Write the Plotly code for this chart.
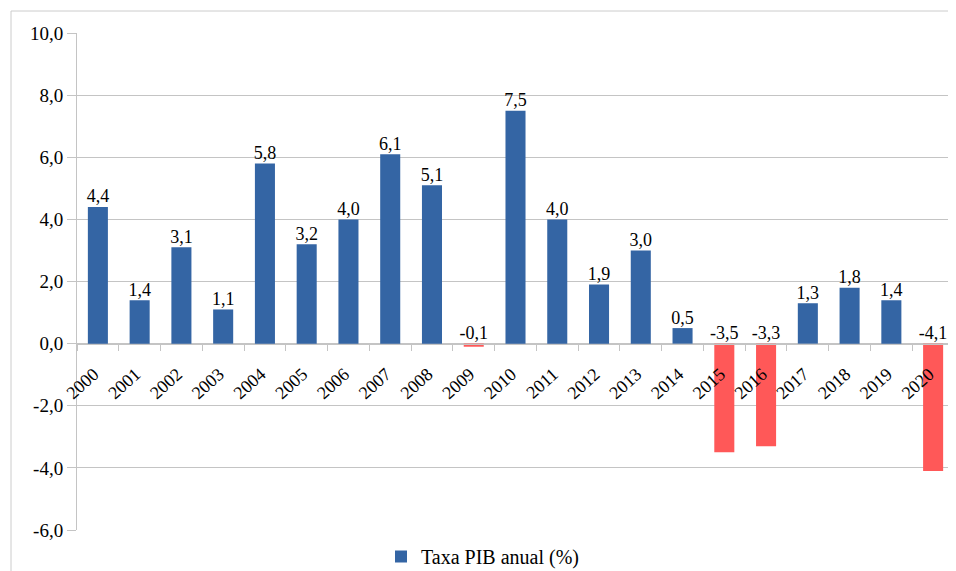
import plotly.graph_objects as go
import numpy as np

years = [str(y) for y in range(2000, 2021)]
pib = [4.4, 1.4, 3.1, 1.1, 5.8, 3.2, 4.0, 6.1, 5.1, -0.1, 7.5,
       4.0, 1.9, 3.0, 0.5, -3.5, -3.3, 1.3, 1.8, 1.4, -4.1]
series_name = "Taxa PIB anual (%)"
y_ticks = [-6, -4, -2, 0, 2, 4, 6, 8, 10]

BLUE = "#3465a4"
RED = "#ff5858"
GRID = "#c4c4c4"
FONT = "Liberation Serif"


def fmt(v):
    return f"{v:.1f}".replace(".", ",")


vals = np.array(pib)
colors = [BLUE if v >= 0 else RED for v in pib]

fig = go.Figure()
fig.add_trace(go.Bar(
    x=years, y=pib, name=series_name,
    marker=dict(color=colors, line=dict(width=0)),
    hoverinfo="skip",
))
fig.add_trace(go.Scatter(
    x=years, y=np.maximum(vals, 0), mode="text",
    text=[fmt(v) for v in pib],
    textposition="top center",
    textfont=dict(family=FONT, size=18, color="#000000"),
    showlegend=False, hoverinfo="skip", cliponaxis=False,
))

# The page body has an 8px margin, so the figure is drawn 8px right/down.
OFF = 8
W, H = 956 - OFF, 571 - OFF
L, R, T, B = 77 - OFF, 2, 33 - OFF, 571 - 530
pw, ph = W - L - R, H - T - B


def px_x(p):
    return (p - OFF - L) / pw


def px_y(p):
    return (H - B - (p - OFF)) / ph


fig.update_layout(
    width=W, height=H,
    margin=dict(l=L, r=R, t=T, b=B, autoexpand=False),
    paper_bgcolor="white", plot_bgcolor="white",
    separators=",.",
    bargap=0.52,
    font=dict(family=FONT, size=18, color="#000000"),
    showlegend=True,
    legend=dict(orientation="h", x=px_x(381), y=px_y(537), xanchor="left", yanchor="top",
                font=dict(family=FONT, size=20), itemwidth=30, bgcolor="rgba(0,0,0,0)"),
    xaxis=dict(
        type="category", anchor="free", position=6 / 16, automargin=False,
        showline=True, linecolor=GRID, linewidth=1,
        ticks="outside", ticklen=6, tickcolor=GRID, tickson="boundaries",
        tickangle=-42, showgrid=False, zeroline=False,
        tickfont=dict(family=FONT, size=18),
        ticklabelstandoff=12, ticklabelshift=-4,
        range=[-0.5, len(years) - 0.5],
    ),
    yaxis=dict(
        range=[-6, 10], tickmode="array", tickvals=y_ticks,
        ticktext=[fmt(v) for v in y_ticks], automargin=False,
        showgrid=True, gridcolor=GRID, gridwidth=1,
        zeroline=False,
        showline=True, linecolor=GRID, linewidth=1,
        ticks="outside", ticklen=9, tickcolor=GRID,
        tickfont=dict(family=FONT, size=19),
    ),
    shapes=[
        dict(type="rect", xref="paper", yref="paper",
             x0=px_x(11), x1=px_x(975), y0=px_y(590), y1=px_y(11),
             line=dict(color="#cccccc", width=1), layer="below"),
        dict(type="line", xref="paper", yref="paper",
             x0=1, x1=1, y0=0, y1=1,
             line=dict(color="#cccccc", width=2)),
    ],
)

fig.write_html("out.html")
